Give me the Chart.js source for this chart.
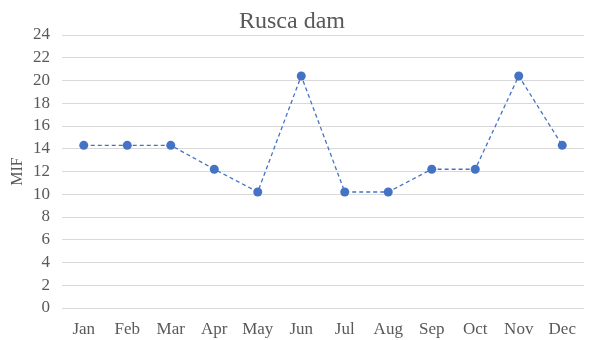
<!DOCTYPE html>
<html>
<head>
<meta charset="utf-8">
<script src="https://cdn.jsdelivr.net/npm/chart.js@4/dist/chart.umd.min.js"></script>
<style>
  html, body { margin: 0; padding: 0; background: #ffffff; }
  #wrap { width: 594px; height: 340px; }
</style>
</head>
<body>
<div id="wrap"><canvas id="c" width="594" height="340"></canvas></div>
<script>
// Monthly MIF values for the Rusca dam
const months = ["Jan", "Feb", "Mar", "Apr", "May", "Jun", "Jul", "Aug", "Sep", "Oct", "Nov", "Dec"];
const mifValues = [14.3, 14.3, 14.3, 12.2, 10.2, 20.4, 10.2, 10.2, 12.2, 12.2, 20.4, 14.3];
const yTicks = [0, 2, 4, 6, 8, 10, 12, 14, 16, 18, 20, 22, 24];

const textColor = "#595959";
const serif = "'Liberation Serif', 'Times New Roman', serif";
const blue = "#4472C4";

new Chart(document.getElementById("c"), {
  type: "line",
  data: {
    labels: months,
    datasets: [{
      label: "MIF",
      data: mifValues,
      borderColor: blue,
      backgroundColor: blue,
      borderWidth: 1.3,
      borderDash: [4, 3],
      pointRadius: 4.5,
      pointHoverRadius: 4.5,
      pointBackgroundColor: blue,
      pointBorderColor: blue,
      pointBorderWidth: 0,
      tension: 0,
      fill: false
    }]
  },
  options: {
    responsive: false,
    animation: false,
    devicePixelRatio: 1,
    layout: { padding: { left: 0, right: 10, top: 0, bottom: 0 } },
    plugins: {
      legend: { display: false },
      tooltip: { enabled: false },
      title: {
        display: true,
        text: "Rusca dam",
        color: textColor,
        font: { family: serif, size: 24, weight: "normal", lineHeight: 1.1 },
        padding: { top: 8.6, bottom: 0 }
      }
    },
    scales: {
      x: {
        offset: true,
        afterFit: (scale) => { scale.height = 32; },
        grid: { display: false, drawTicks: false },
        border: { display: false },
        ticks: {
          color: textColor,
          font: { family: serif, size: 17 },
          padding: 11,
          maxRotation: 0,
          autoSkip: false
        }
      },
      y: {
        min: 0,
        max: 24,
        afterBuildTicks: (scale) => { scale.ticks = yTicks.map(v => ({ value: v })); },
        afterFit: (scale) => { scale.width = 62; },
        grid: { color: "#d9d9d9", lineWidth: 1, drawTicks: false },
        border: { display: false },
        ticks: {
          color: textColor,
          font: { family: serif, size: 17 },
          padding: 12,
          autoSkip: false
        },
        title: {
          display: true,
          text: "MIF",
          color: textColor,
          font: { family: serif, size: 16, weight: "normal" },
          padding: { top: 8, bottom: 0 }
        }
      }
    }
  }
});
</script>
</body>
</html>
